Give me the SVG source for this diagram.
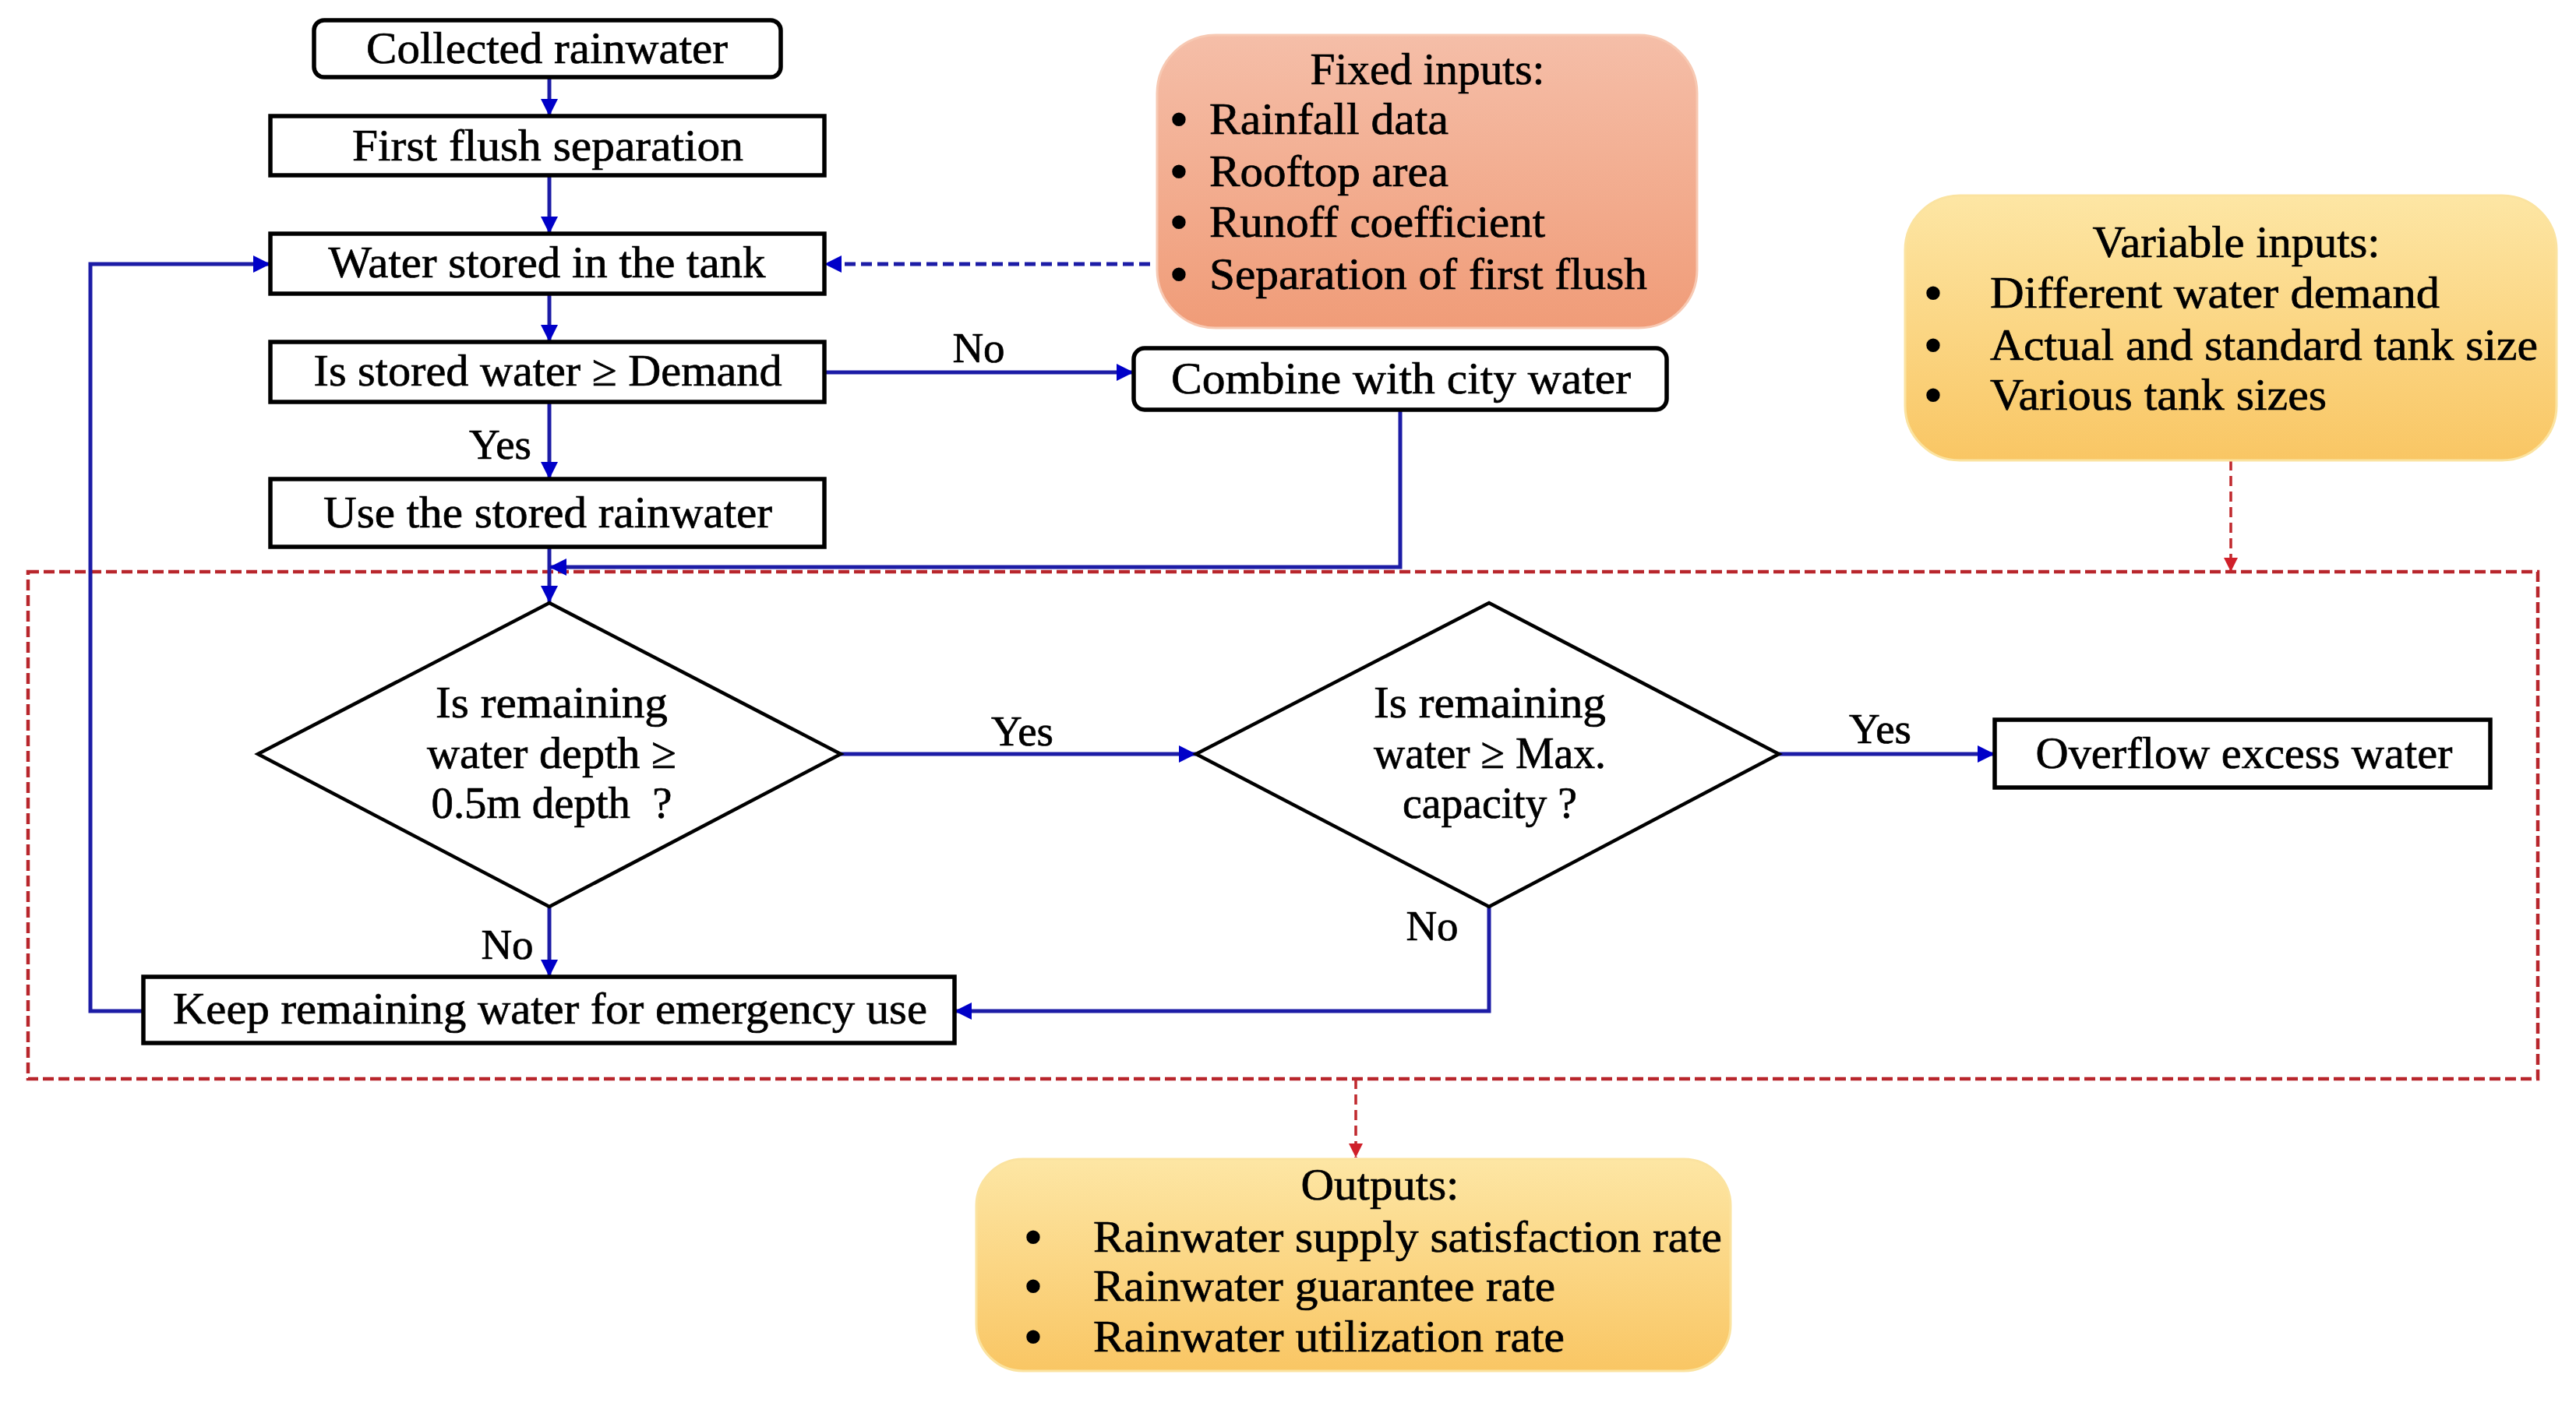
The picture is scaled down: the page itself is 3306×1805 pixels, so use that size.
<svg xmlns="http://www.w3.org/2000/svg" width="3306" height="1805" viewBox="0 0 3306 1805">
<defs>
<style>
text{font-family:"Liberation Serif","Times New Roman",serif;font-size:57px;fill:#000;stroke:#000;stroke-width:0.7;}
.c{text-anchor:middle;}
.b{text-anchor:middle;font-weight:bold;stroke-width:2;}
.lbl{font-size:55px;text-anchor:middle;}
.box{fill:#fff;stroke:#000;stroke-width:5.5;}
.dia{fill:#fff;stroke:#000;stroke-width:4.5;}
.con{fill:none;stroke:#1c1ca6;stroke-width:5;}
.bdash{fill:none;stroke:#1c1ca6;stroke-width:5;stroke-dasharray:14 7;}
.rdash{fill:none;stroke:#c0282d;stroke-width:3.5;stroke-dasharray:13 7;}
.frame{fill:none;stroke:#b8262c;stroke-width:4.5;stroke-dasharray:14 6;}
</style>
<marker id="ab" markerUnits="userSpaceOnUse" markerWidth="24" markerHeight="22" refX="22" refY="11" orient="auto">
<path d="M0,0 L22,11 L0,22 z" fill="#0000c8"/>
</marker>
<marker id="ar" markerUnits="userSpaceOnUse" markerWidth="20" markerHeight="20" refX="18" refY="9" orient="auto">
<path d="M0,0 L18,9 L0,18 z" fill="#d0202a"/>
</marker>
<linearGradient id="gFixed" x1="0" y1="0" x2="0" y2="1">
<stop offset="0" stop-color="#f5bea8"/>
<stop offset="1" stop-color="#f09c78"/>
</linearGradient>
<linearGradient id="gYel" x1="0" y1="0" x2="0" y2="1">
<stop offset="0" stop-color="#fde6a4"/>
<stop offset="1" stop-color="#f9c664"/>
</linearGradient>
</defs>
<rect x="0" y="0" width="3306" height="1805" fill="#fff"/>

<rect id="frame" class="frame" x="36" y="734" width="3221" height="651"/>

<g id="connectors">
<line class="con" x1="705" y1="99" x2="705" y2="149" marker-end="url(#ab)"/>
<line class="con" x1="705" y1="225" x2="705" y2="300" marker-end="url(#ab)"/>
<line class="con" x1="705" y1="377" x2="705" y2="439" marker-end="url(#ab)"/>
<line class="con" x1="705" y1="516" x2="705" y2="615" marker-end="url(#ab)"/>
<line class="con" x1="1058" y1="478" x2="1455" y2="478" marker-end="url(#ab)"/>
<line class="bdash" x1="1476" y1="339" x2="1058" y2="339" marker-end="url(#ab)"/>
<line class="con" x1="705" y1="702" x2="705" y2="774" marker-end="url(#ab)"/>
<polyline class="con" points="1797,526 1797,728 705,728" marker-end="url(#ab)"/>
<line class="con" x1="1079" y1="968" x2="1535" y2="968" marker-end="url(#ab)"/>
<line class="con" x1="2283" y1="968" x2="2560" y2="968" marker-end="url(#ab)"/>
<line class="con" x1="705" y1="1164" x2="705" y2="1254" marker-end="url(#ab)"/>
<polyline class="con" points="1911,1164 1911,1298 1225,1298" marker-end="url(#ab)"/>
<polyline class="con" points="184,1298 116,1298 116,339 347,339" marker-end="url(#ab)"/>
<line class="rdash" x1="2863" y1="591" x2="2863" y2="734" marker-end="url(#ar)"/>
<line class="rdash" x1="1740" y1="1385" x2="1740" y2="1486" marker-end="url(#ar)"/>
<text class="lbl" x="642" y="589">Yes</text>
<text class="lbl" x="1256" y="465">No</text>
<text class="lbl" x="1312" y="957">Yes</text>
<text class="lbl" x="2413" y="954">Yes</text>
<text class="lbl" x="651" y="1231">No</text>
<text class="lbl" x="1838" y="1207">No</text>
</g>

<g id="collected">
<rect class="box" x="403" y="26" width="599" height="73" rx="13"/>
<text class="c" x="702" y="81" textLength="464" lengthAdjust="spacingAndGlyphs">Collected rainwater</text>
</g>
<g id="firstflush">
<rect class="box" x="347" y="149" width="711" height="76"/>
<text class="c" x="703" y="206" textLength="502" lengthAdjust="spacingAndGlyphs">First flush separation</text>
</g>
<g id="stored">
<rect class="box" x="347" y="300" width="711" height="77"/>
<text class="c" x="702" y="356" textLength="561" lengthAdjust="spacingAndGlyphs">Water stored in the tank</text>
</g>
<g id="isstored">
<rect class="box" x="347" y="439" width="711" height="77"/>
<text class="c" x="703" y="495" textLength="601" lengthAdjust="spacingAndGlyphs">Is stored water ≥ Demand</text>
</g>
<g id="use">
<rect class="box" x="347" y="615" width="711" height="87"/>
<text class="c" x="703" y="677" textLength="576" lengthAdjust="spacingAndGlyphs">Use the stored rainwater</text>
</g>
<g id="combine">
<rect class="box" x="1455" y="447" width="684" height="79" rx="14"/>
<text class="c" x="1798" y="505" textLength="590" lengthAdjust="spacingAndGlyphs">Combine with city water</text>
</g>

<g id="fixed">
<rect x="1485" y="45" width="693" height="376" rx="75" fill="url(#gFixed)" stroke="#f7c9b3" stroke-width="3"/>
<text class="c" x="1832" y="108" textLength="301" lengthAdjust="spacingAndGlyphs">Fixed inputs:</text>
<text class="b" x="1513" y="172">•</text>
<text x="1552" y="172" textLength="307" lengthAdjust="spacingAndGlyphs">Rainfall data</text>
<text class="b" x="1513" y="239">•</text>
<text x="1552" y="239" textLength="307" lengthAdjust="spacingAndGlyphs">Rooftop area</text>
<text class="b" x="1513" y="304">•</text>
<text x="1552" y="304" textLength="431" lengthAdjust="spacingAndGlyphs">Runoff coefficient</text>
<text class="b" x="1513" y="371">•</text>
<text x="1552" y="371" textLength="562" lengthAdjust="spacingAndGlyphs">Separation of first flush</text>
</g>

<g id="variable">
<rect x="2445" y="251" width="836" height="340" rx="70" fill="url(#gYel)" stroke="#fbe3a0" stroke-width="3"/>
<text class="c" x="2870" y="330" textLength="369" lengthAdjust="spacingAndGlyphs">Variable inputs:</text>
<text class="b" x="2481" y="395">•</text>
<text x="2554" y="395" textLength="577" lengthAdjust="spacingAndGlyphs">Different water demand</text>
<text class="b" x="2481" y="462">•</text>
<text x="2554" y="462" textLength="703" lengthAdjust="spacingAndGlyphs">Actual and standard tank size</text>
<text class="b" x="2481" y="526">•</text>
<text x="2554" y="526" textLength="432" lengthAdjust="spacingAndGlyphs">Various tank sizes</text>
</g>

<g id="decision1">
<polygon class="dia" points="705,774 1079,968 705,1164 331,968"/>
<text class="c" x="708" y="921" textLength="298" lengthAdjust="spacingAndGlyphs">Is remaining</text>
<text class="c" x="708" y="986" textLength="320" lengthAdjust="spacingAndGlyphs">water depth ≥</text>
<text class="c" x="708" y="1050" textLength="309" lengthAdjust="spacingAndGlyphs">0.5m depth&#160; ?</text>
</g>
<g id="decision2">
<polygon class="dia" points="1911,774 2283,968 1911,1164 1535,968"/>
<text class="c" x="1912" y="921" textLength="298" lengthAdjust="spacingAndGlyphs">Is remaining</text>
<text class="c" x="1912" y="986" textLength="298" lengthAdjust="spacingAndGlyphs">water ≥ Max.</text>
<text class="c" x="1912" y="1050" textLength="224" lengthAdjust="spacingAndGlyphs">capacity ?</text>
</g>
<g id="overflow">
<rect class="box" x="2560" y="924" width="636" height="87"/>
<text class="c" x="2880" y="986" textLength="535" lengthAdjust="spacingAndGlyphs">Overflow excess water</text>
</g>
<g id="keep">
<rect class="box" x="184" y="1254" width="1041" height="85"/>
<text class="c" x="706" y="1314" textLength="968" lengthAdjust="spacingAndGlyphs">Keep remaining water for emergency use</text>
</g>

<g id="outputs">
<rect x="1253" y="1488" width="968" height="272" rx="60" fill="url(#gYel)" stroke="#fbe3a0" stroke-width="3"/>
<text class="c" x="1771" y="1540" textLength="203" lengthAdjust="spacingAndGlyphs">Outputs:</text>
<text class="b" x="1326" y="1607">•</text>
<text x="1403" y="1607" textLength="807" lengthAdjust="spacingAndGlyphs">Rainwater supply satisfaction rate</text>
<text class="b" x="1326" y="1670">•</text>
<text x="1403" y="1670" textLength="593" lengthAdjust="spacingAndGlyphs">Rainwater guarantee rate</text>
<text class="b" x="1326" y="1735">•</text>
<text x="1403" y="1735" textLength="605" lengthAdjust="spacingAndGlyphs">Rainwater utilization rate</text>
</g>
</svg>
